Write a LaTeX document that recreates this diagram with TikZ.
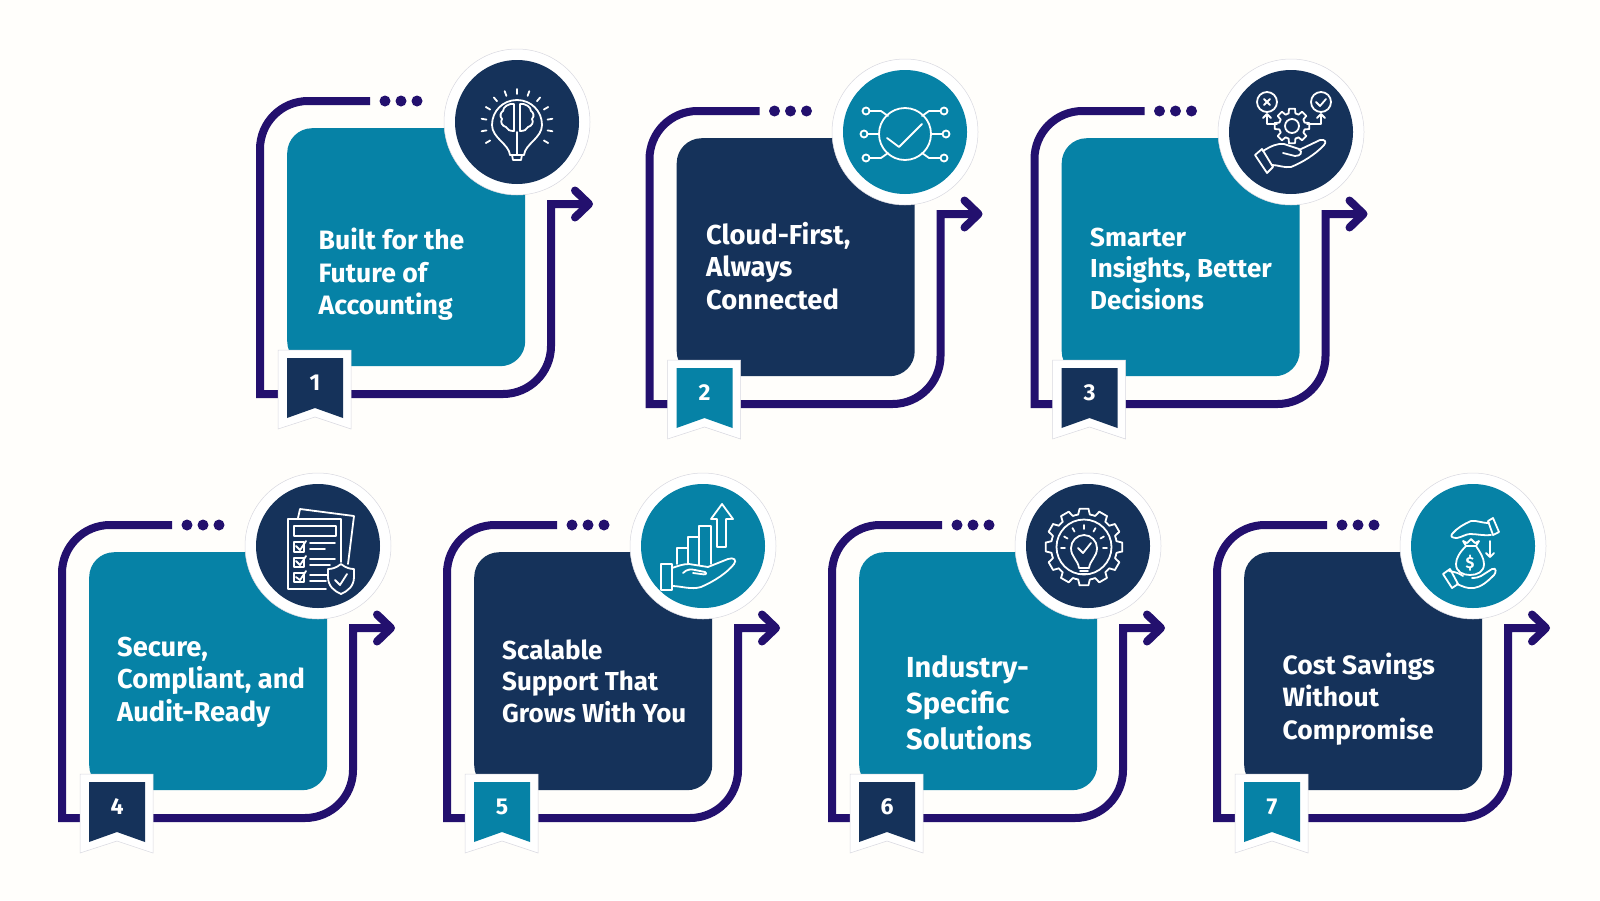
\documentclass[tikz,border=0pt]{standalone}
\usepackage{fontspec}
\setmainfont{Fira Sans}
\usetikzlibrary{arrows.meta}
\definecolor{pagebg}{HTML}{FFFEFB}
\definecolor{tealc}{HTML}{0682A6}
\definecolor{navyc}{HTML}{15325A}
\definecolor{purplec}{HTML}{23106E}
\definecolor{hair}{HTML}{D8D8E0}
\tikzset{
  frameline/.style={draw=purplec,line width=8pt,line cap=butt,line join=miter},
  cardbox/.style={rectangle,rounded corners=25pt,minimum width=238pt,minimum height=238pt,inner sep=0pt,anchor=north west},
  badgecircle/.style={circle,fill=white,draw=hair,line width=0.5pt,minimum size=146pt,inner sep=0pt},
  iconcircle/.style={circle,minimum size=124pt,inner sep=0pt},
  dotnode/.style={circle,fill=purplec,minimum size=11pt,inner sep=0pt},
  numtext/.style={text=white,font=\fontsize{23}{23}\selectfont\bfseries,inner sep=0pt},
  cardtext/.style={text=white,align=left,anchor=base west,inner sep=0pt},
  ic/.style={draw=white,line width=1.8pt,line cap=round,line join=round},
}
\newcommand{\gearring}[5]{% cx cy Rt Rr n
  \pgfmathsetmacro{\gp}{360/#5}
  \foreach \gi in {1,...,#5}{
    \pgfmathsetmacro{\ga}{\gi*\gp}
    \pgfmathsetmacro{\gb}{\ga+0.22*\gp}
    \pgfmathsetmacro{\gc}{\ga+0.34*\gp}
    \pgfmathsetmacro{\gd}{\ga+0.5*\gp}
    \pgfmathsetmacro{\ge}{\ga+0.66*\gp}
    \pgfmathsetmacro{\gf}{\ga+0.78*\gp}
    \pgfmathsetmacro{\gg}{\ga+1.22*\gp}
    \draw[ic,shift={(#1,#2)}] (\gb:#3)--(\gc:#4)--(\gd:#4)--(\ge:#4)--(\gf:#3)--(\gg:#3);
  }
}
\newcommand{\iconbrain}{
  \draw[ic] (-7,33) .. controls (-8,22) and (-25,16) .. (-25,3) .. controls (-25,-11) and (-14,-22) .. (0,-22) .. controls (14,-22) and (25,-11) .. (25,3) .. controls (25,16) and (8,22) .. (7,33) -- cycle;
  \draw[ic] (-5,33) -- (-4,38) -- (4,38) -- (5,33);
  \draw[ic] (0,10) -- (0,33);
  \draw[ic] (-3,-18) -- (-3,9) .. controls (-7,9) and (-10,8) .. (-11,5) .. controls (-15,4) and (-17,0) .. (-15,-3) .. controls (-18,-6) and (-16,-10) .. (-14,-11) .. controls (-14,-15) and (-8,-19) .. (-3,-18);
  \draw[ic] (3,-18) -- (3,9) .. controls (7,9) and (10,8) .. (11,5) .. controls (15,4) and (17,0) .. (15,-3) .. controls (18,-6) and (16,-10) .. (14,-11) .. controls (14,-15) and (8,-19) .. (3,-18);
  \foreach \ra in {150,170,...,390}{\draw[ic,shift={(0,3)}] (\ra:31) -- (\ra:36);}
}
\newcommand{\iconcloud}{
  \draw[ic] (0,2) circle[radius=26];
  \draw[ic] (-18,6) -- (-6,15) -- (17,-8);
  \foreach \sx in {-1,1}{
    \draw[ic] (\sx*39,-21) circle[radius=3.5];
    \draw[ic] (\sx*41,2) circle[radius=3.5];
    \draw[ic] (\sx*39,26) circle[radius=3.5];
    \draw[ic] (\sx*35.5,-21) -- (\sx*24,-21) -- (\sx*17,-16);
    \draw[ic] (\sx*37.5,2) -- (\sx*26,2);
    \draw[ic] (\sx*35.5,26) -- (\sx*24,26) -- (\sx*17,21);
  }
}
\newcommand{\iconinsight}{
  \gearring{1}{-6}{17.5}{13}{8}
  \draw[ic] (1,-6) circle[radius=7];
  \draw[ic] (-24,-30) circle[radius=10];
  \draw[ic] (30,-30) circle[radius=10];
  \draw[ic] (-27,-33) -- (-21,-27) (-21,-33) -- (-27,-27);
  \draw[ic] (25,-30) -- (29,-26) -- (35,-33);
  \draw[ic] (-14,-8) -- (-24,-8) -- (-24,-18) (-28,-14) -- (-24,-18) -- (-20,-14);
  \draw[ic] (16,-8) -- (30,-8) -- (30,-18) (26,-14) -- (30,-18) -- (34,-14);
  \draw[ic] (-36,23) -- (-29,17) -- (-18,35) -- (-24,41) -- cycle;
  \draw[ic] (-28,19) .. controls (-20,14) and (-13,11) .. (-7,12) -- (8,17) .. controls (12,20) and (10,24) .. (4,24) -- (-8,21);
  \draw[ic] (8,18) -- (29,8) .. controls (34,7) and (36,10) .. (33,13) .. controls (24,23) and (10,31) .. (0,35) .. controls (-7,36) and (-13,33) .. (-19,33);
}
\newcommand{\iconsecure}{
  \draw[ic] (-20,-28) -- (-18,-37) -- (36,-30) -- (30,18);
  \draw[ic] (8,43) -- (-30,43) -- (-30,-27) -- (23,-27) -- (23,16);
  \draw[ic] (-24,-20) rectangle (18,-10);
  \draw[ic] (-24,-4) rectangle (-14,6);
  \draw[ic] (-24,12) rectangle (-14,21);
  \draw[ic] (-24,27) rectangle (-14,36);
  \draw[ic] (-22,0) -- (-18,4) -- (-12,-5);
  \draw[ic] (-22,15) -- (-18,19) -- (-12,10);
  \draw[ic] (-22,31) -- (-18,34) -- (-12,25);
  \draw[ic] (-8,-3) -- (17,-3) (-8,3) -- (7,3) (-8,13) -- (17,13) (-8,19) -- (12,19) (-8,29) -- (9,29) (-8,35) -- (8,35);
  \draw[ic,fill=navyc] (23,18) .. controls (28,22) and (32,23) .. (36,23) -- (36,31) .. controls (36,40) and (30,45) .. (23,48) .. controls (16,45) and (10,40) .. (10,31) -- (10,23) .. controls (14,23) and (18,22) .. (23,18) -- cycle;
  \draw[ic] (17,34) -- (22,39) -- (29,28);
}
\newcommand{\iconscale}{
  \draw[ic] (19,-42) -- (30,-27) -- (23,-27) -- (23,1) -- (14,1) -- (14,-27) -- (8,-27) -- cycle;
  \draw[ic] (-26,18) -- (-26,2) -- (-15,2) -- (-15,-9) -- (-4,-9) -- (-4,-20) -- (8,-20) -- (8,18);
  \draw[ic] (-15,2) -- (-15,18) (-4,-9) -- (-4,19);
  \draw[ic] (-42,18) rectangle (-31,44);
  \draw[ic] (-31,22) .. controls (-25,20) and (-20,18) .. (-14,18) -- (5,21) -- (25,13) .. controls (31,11) and (34,14) .. (31,18) .. controls (25,26) and (12,35) .. (-2,41) .. controls (-12,44) and (-22,40) .. (-31,40);
  \draw[ic] (-20,27) .. controls (-16,23) and (-12,23) .. (-8,24) -- (2,26) .. controls (5,28) and (2,29) .. (-2,28) -- (-10,27);
}
\newcommand{\iconindustry}{
  \gearring{-4}{1}{38.5}{33}{12}
  \draw[ic] (-4,1) circle[radius=27.5];
  \draw[ic] (-9,22) .. controls (-10,14) and (-17,11) .. (-17,2) .. controls (-17,-5) and (-11,-11) .. (-4,-11) .. controls (3,-11) and (9,-5) .. (9,2) .. controls (9,11) and (2,14) .. (1,22) -- cycle;
  \draw[ic] (-8,25) -- (0,25) (-7,28) -- (-1,28);
  \draw[ic] (-10,2) -- (-5,7) -- (3,-3);
  \foreach \ra in {180,210,...,360}{\draw[ic,shift={(-4,2)}] (\ra:19) -- (\ra:23);}
}
\newcommand{\iconsavings}{
  \draw[ic] (15,-25) -- (20,-28) -- (26,-14) -- (20,-11) -- cycle;
  \draw[ic] (16,-23) .. controls (8,-23) and (3,-26) .. (-2,-25) .. controls (-9,-22) and (-16,-18) .. (-21,-12) .. controls (-23,-9) and (-20,-8) .. (-16,-8) .. controls (-11,-9) and (-7,-12) .. (-3,-12) .. controls (4,-12) and (12,-10) .. (18,-11);
  \draw[ic] (17,-5) -- (17,11) (13,7) -- (17,11) (21,7) -- (17,11);
  \draw[ic] (-7,0) -- (-10,-5) -- (-6,-3) -- (-2,-7) -- (2,-3) -- (6,-5) -- (3,0) -- cycle;
  \draw[ic] (-7,0) .. controls (-13,6) and (-17,12) .. (-17,18) .. controls (-17,26) and (-10,29) .. (-3,29) .. controls (4,29) and (11,26) .. (11,18) .. controls (11,12) and (7,6) .. (3,0);
  \node[text=white,font=\fontsize{16}{16}\selectfont\bfseries,inner sep=0pt] (dollar) at (-3,17) {\$};
  \draw[ic] (-30,28) -- (-23,23) -- (-15,38) -- (-21,42) -- cycle;
  \draw[ic] (-24,25) .. controls (-18,26) and (-14,27) .. (-10,30) (-1,32) .. controls (3,32) and (6,31) .. (8,30) -- (19,23) .. controls (24,21) and (23,27) .. (21,29) .. controls (14,36) and (8,41) .. (1,42) .. controls (-6,43) and (-11,40) .. (-16,38);
}
% id, x, y, card colour, accent colour, icon, number, circle x offset
\newcommand{\stepcard}[8]{
\begin{scope}[shift={(#2,#3)}]
  \coordinate (fs#1) at (83,-27);
  \coordinate (ftl#1) at (-27,-27);
  \coordinate (fbl#1) at (-27,266);
  \coordinate (fbr#1) at (264,266);
  \coordinate (ftr#1) at (264,76);
  \coordinate (ftip#1) at (306,76);
  \draw[frameline,-{Straight Barb[length=14pt,width=27pt,round]}] (fs#1) [rounded corners=48pt] -- (ftl#1) [sharp corners] -- (fbl#1) [rounded corners=48pt] -- (fbr#1) [sharp corners] -- (ftr#1) -- (ftip#1);
  \node[cardbox,fill=#4] (card#1) at (0,0) {};
  \node[dotnode] (da#1) at (98,-27) {};
  \node[dotnode] (db#1) at (114,-27) {};
  \node[dotnode] (dc#1) at (130,-27) {};
  \node[badgecircle] (ring#1) at (#8,-6) {};
  \node[iconcircle,fill=#5] (icon#1) at (#8,-6) {};
  \begin{scope}[shift={(#8,-6)}] #6 \end{scope}
  \draw[fill=white,draw=hair,line width=0.5pt] (-9,222) -- (64,222) -- (64,301) -- (28,289) -- (-9,301) -- cycle;
  \fill[#5] (0,230) -- (56,230) -- (56,290) -- (28,280) -- (0,290) -- cycle;
  \node[numtext] (num#1) at (28,254.5) {#7};
\end{scope}
}
\begin{document}
\begin{tikzpicture}[x=1pt,y=-1pt]
\fill[pagebg] (0,0) rectangle (1600,900);
\useasboundingbox (0,0) rectangle (1600,900);
\stepcard{1}{287}{128}{tealc}{navyc}{\iconbrain}{1}{230}
\stepcard{2}{676.5}{138}{navyc}{tealc}{\iconcloud}{2}{228.5}
\stepcard{3}{1061.5}{138}{tealc}{navyc}{\iconinsight}{3}{229.5}
\stepcard{4}{89}{552}{tealc}{navyc}{\iconsecure}{4}{229}
\stepcard{5}{474}{552}{navyc}{tealc}{\iconscale}{5}{229}
\stepcard{6}{859}{552}{tealc}{navyc}{\iconindustry}{6}{229}
\stepcard{7}{1244}{552}{navyc}{tealc}{\iconsavings}{7}{229}
\node[cardtext,font=\fontsize{26.6}{32.5}\selectfont\bfseries] (t1) at (318.5,314.5) {Built for the\\Future of\\Accounting};
\node[cardtext,font=\fontsize{27.4}{32.5}\selectfont\bfseries] (t2) at (706,309) {Cloud-First,\\Always\\Connected};
\node[cardtext,font=\fontsize{26}{31.5}\selectfont\bfseries] (t3) at (1090,309) {Smarter\\Insights, Better\\Decisions};
\node[cardtext,font=\fontsize{27.3}{32.5}\selectfont\bfseries] (t4) at (117,721) {Secure,\\Compliant, and\\Audit-Ready};
\node[cardtext,font=\fontsize{26}{31.5}\selectfont\bfseries] (t5) at (502,722) {Scalable\\Support That\\Grows With You};
\node[cardtext,font=\fontsize{29}{36}\selectfont\bfseries] (t6) at (906,749) {Industry-\\Specific\\Solutions};
\node[cardtext,font=\fontsize{26.5}{32.5}\selectfont\bfseries] (t7) at (1282.5,739) {Cost Savings\\Without\\Compromise};
\end{tikzpicture}
\end{document}
